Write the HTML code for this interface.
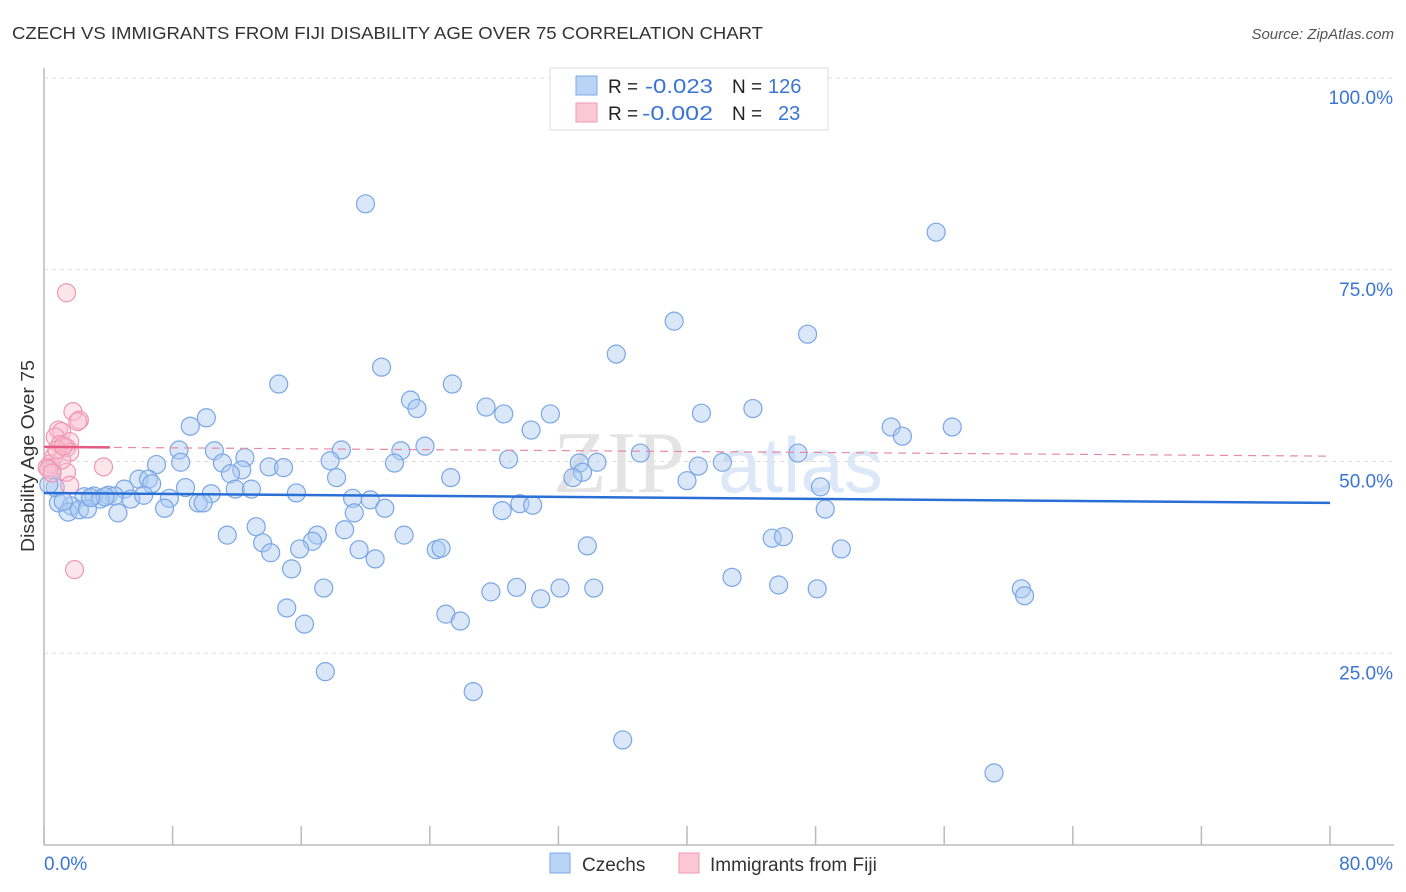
<!DOCTYPE html>
<html><head><meta charset="utf-8"><style>
body{margin:0;background:#fff;font-family:"Liberation Sans",sans-serif;}
svg{display:block}
</style></head><body>
<svg id="chart" width="1406" height="892">
<text x="12" y="39" font-size="17.5" fill="#333" textLength="751" lengthAdjust="spacingAndGlyphs">CZECH VS IMMIGRANTS FROM FIJI DISABILITY AGE OVER 75 CORRELATION CHART</text>
<text x="1394" y="39" font-size="15" fill="#555" font-style="italic" text-anchor="end">Source: ZipAtlas.com</text>
<g>
<text x="553" y="492" font-size="88" fill="#e4e4e4" font-family="Liberation Serif,serif">ZIP</text>
<text x="718" y="492" font-size="78" fill="#dce8f7">atlas</text>
</g>
<g id="grid"></g>
<g id="axes"></g>
<g id="marks"></g>
<text transform="translate(34,456) rotate(-90)" font-size="18" fill="#333" text-anchor="middle" textLength="192" lengthAdjust="spacingAndGlyphs">Disability Age Over 75</text>
<g>
<rect x="550" y="68" width="278" height="62" fill="#fff" stroke="#ddd"/>
<rect x="576" y="76" width="21" height="19" fill="#b9d3f5" stroke="#7aa8e8"/>
<rect x="576" y="103" width="21" height="19" fill="#fbc6d6" stroke="#ee9ab3"/>
<text x="608" y="93" font-size="19" fill="#222">R =</text>
<text x="645" y="93" font-size="20" fill="#3a75d6" textLength="68" lengthAdjust="spacingAndGlyphs">-0.023</text>
<text x="732" y="93" font-size="19" fill="#222">N =</text>
<text x="768" y="93" font-size="20" fill="#3a75d6">126</text>
<text x="608" y="120" font-size="19" fill="#222">R =</text>
<text x="642" y="120" font-size="20" fill="#3a75d6" textLength="71" lengthAdjust="spacingAndGlyphs">-0.002</text>
<text x="732" y="120" font-size="19" fill="#222">N =</text>
<text x="778" y="120" font-size="20" fill="#3a75d6">23</text>
</g>
<g>
<rect x="550" y="853" width="20" height="20" fill="#b9d3f5" stroke="#7aa8e8"/>
<text x="582" y="871" font-size="19" fill="#333">Czechs</text>
<rect x="679" y="853" width="20" height="20" fill="#fbc6d6" stroke="#ee9ab3"/>
<text x="710" y="871" font-size="19" fill="#333">Immigrants from Fiji</text>
</g>
</svg>
<script>
const czechX=[20.0,55.5,39.2,47.5,35.6,21.0,14.6,25.4,22.8,23.2,27.5,28.6,31.5,40.9,44.1,10.1,9.1,52.7,53.4,56.5,30.3,23.7,18.5,22.2,8.4,10.6,37.1,46.9,12.5,17.8,28.9,8.5,7.0,11.1,21.8,33.3,34.4,42.2,40.7,14.0,14.9,12.3,11.6,33.5,32.9,25.3,18.2,40.0,5.9,6.5,6.7,8.8,48.3,5.0,11.9,12.9,10.4,15.7,3.1,4.0,4.4,2.5,3.5,5.4,7.8,19.2,20.3,29.6,30.4,9.6,9.9,0.9,1.7,7.5,19.3,21.2,28.5,48.6,1.5,2.2,2.7,4.6,13.2,18.7,11.4,17.0,22.4,16.7,13.6,45.3,46.0,15.9,33.8,24.4,24.7,49.6,14.1,19.6,20.6,15.4,42.8,17.4,27.8,29.4,32.1,34.2,45.7,48.1,60.8,61.0,30.9,15.1,25.0,25.9,16.2,17.5,26.7,36.0,59.1,0.7,0.5,0.3,1.2,3.8,6.2,2.9];
const czechY=[83.6,79.9,68.3,66.6,64.0,62.3,60.1,60.1,58.0,56.9,57.1,56.2,56.2,56.3,56.9,55.7,54.6,54.5,53.3,54.5,54.1,52.0,51.5,51.4,51.5,51.4,51.1,51.1,50.5,50.1,50.3,49.9,49.6,49.8,49.8,49.8,49.9,49.9,49.4,49.3,49.2,48.9,48.4,48.6,47.9,47.9,47.9,47.5,47.7,47.7,47.1,46.6,46.7,46.4,46.4,46.4,45.8,45.9,45.5,45.6,45.5,45.4,45.1,45.1,45.2,45.2,45.0,44.5,44.3,44.6,44.6,44.6,44.2,43.9,43.3,43.9,43.6,43.8,43.4,43.7,43.8,43.3,41.5,41.1,40.4,40.4,40.4,39.6,39.4,40.0,40.2,38.6,39.0,38.5,38.7,38.6,38.1,38.5,37.3,36.0,34.9,33.5,33.0,33.6,33.5,33.5,33.9,33.4,33.4,32.5,32.1,30.9,30.1,29.2,28.8,22.6,20.0,13.7,9.4,46.6,48.9,47.0,44.8,45.4,45.6,45.3];
const fijiX=[1.4,1.8,2.2,2.1,0.9,1.1,0.7,1.6,1.0,1.4,1.6,0.6,3.7,0.4,0.2,1.4,1.6,1.9,1.1,0.8,0.3,1.2,0.5];
const fijiY=[72.0,56.5,55.4,55.2,54.1,53.9,53.2,52.6,52.2,51.8,51.2,50.6,49.3,49.7,49.2,48.6,46.9,35.9,50.2,51.5,49.0,52.0,48.5];
const xTicks=[0,10,20,30,40,50,60,70,80];
const yTicks=[25,50,75,100];
const yTickLabels=["25.0%","50.0%","75.0%","100.0%"];
const czechTrend=[45.9,44.6];
const fijiTrend=[51.9,50.7];
const NS="http://www.w3.org/2000/svg";
const X0=44,X1=1330,Y0=845,Y1=78;
const sx=v=>X0+v/80*(X1-X0);
const sy=v=>Y0-v/100*(Y0-Y1);
function mk(tag,attrs,parent){const e=document.createElementNS(NS,tag);for(const k in attrs)e.setAttribute(k,attrs[k]);parent.appendChild(e);return e;}
const grid=document.getElementById('grid'),axes=document.getElementById('axes'),marks=document.getElementById('marks');
yTicks.forEach((t,i)=>{
 const l=mk('line',{x1:X0,x2:1394,y1:sy(t),y2:sy(t),stroke:'#ddd','stroke-dasharray':'4,4'},grid);
 
 
 const tx=mk('text',{x:1393,y:sy(t)+26,'font-size':19,fill:'#3a75d6','text-anchor':'end'},axes);
 tx.textContent=yTickLabels[i];
 
 
});
const ya=mk('line',{x1:X0,x2:X0,y1:68,y2:Y0,stroke:'#bbb','stroke-width':1.5},axes);


const xa=mk('line',{x1:X0,x2:1394,y1:Y0,y2:Y0,stroke:'#bbb','stroke-width':1.5},axes);


for(let v=0;v<=80;v+=8){
 const tk=mk('line',{x1:sx(v),x2:sx(v),y1:826,y2:Y0,stroke:'#bbb','stroke-width':1.5},axes);
 
 
}
const xl0=mk('text',{x:44,y:870,'font-size':19,fill:'#3a75d6'},axes);xl0.textContent='0.0%';


const xl1=mk('text',{x:1393,y:870,'font-size':19,fill:'#3a75d6','text-anchor':'end'},axes);xl1.textContent='80.0%';


czechX.forEach((x,i)=>{
 const c=mk('circle',{cx:sx(x),cy:sy(czechY[i]),r:9,fill:'rgba(170,202,242,0.45)',stroke:'#7aa6e6','stroke-width':1.2},marks);
 
 
});
fijiX.forEach((x,i)=>{
 const c=mk('circle',{cx:sx(x),cy:sy(fijiY[i]),r:9,fill:'rgba(250,190,208,0.4)',stroke:'#ef97b3','stroke-width':1.2},marks);
 
 
});
const ct=mk('line',{x1:X0,x2:X1,y1:sy(czechTrend[0]),y2:sy(czechTrend[1]),stroke:'#2a6fd6','stroke-width':2.5},marks);


const fd=mk('line',{x1:X0,x2:X1,y1:sy(fijiTrend[0]),y2:sy(fijiTrend[1]),stroke:'#e88aa8','stroke-width':1.2,'stroke-dasharray':'8,6'},marks);


const fs=mk('line',{x1:X0,x2:sx(4.1),y1:sy(fijiTrend[0]),y2:sy(fijiTrend[0]+(fijiTrend[1]-fijiTrend[0])*4.1/80),stroke:'#e45a84','stroke-width':2.5},marks);


</script>
</body></html>
